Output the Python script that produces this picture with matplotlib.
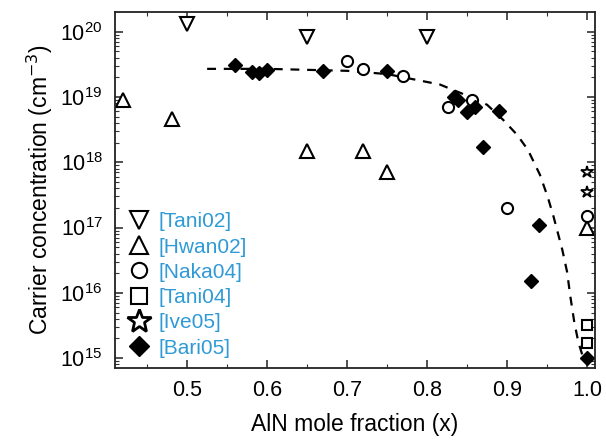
import numpy as np
import matplotlib.pyplot as plt
from matplotlib.lines import Line2D
from matplotlib.ticker import LogLocator, MultipleLocator, FixedLocator

plt.rcParams['font.family'] = ['Liberation Sans', 'DejaVu Sans']

# data (x = AlN mole fraction, y = carrier conc. in cm^-3)
tani02_x = [0.50, 0.65, 0.80]
tani02_y = [1.3e20, 8.3e19, 8.3e19]

hwan02_x = [0.42, 0.481, 0.65, 0.72, 0.75, 1.0]
hwan02_y = [9.0e18, 4.6e18, 1.5e18, 1.5e18, 7.0e17, 1.0e17]

naka04_x = [0.70, 0.72, 0.77, 0.826, 0.856, 0.90, 1.0]
naka04_y = [3.6e19, 2.7e19, 2.1e19, 7.0e18, 9.0e18, 2.0e17, 1.5e17]

tani04_x = [1.0, 1.0]
tani04_y = [3.2e15, 1.7e15]

ive05_x = [1.0, 1.0]
ive05_y = [7.2e17, 3.5e17]

bari05_x = [0.56, 0.581, 0.59, 0.60, 0.67, 0.75, 0.833, 0.839, 0.85, 0.86,
            0.89, 0.87, 0.94, 0.93, 1.0]
bari05_y = [3.1e19, 2.4e19, 2.3e19, 2.6e19, 2.5e19, 2.5e19, 1.0e19, 9.0e18,
            5.9e18, 6.9e18, 6.0e18, 1.7e18, 1.1e17, 1.5e16, 1.0e15]

# dashed guide curve, read point by point (log10 of concentration)
curve_x = [0.525, 0.60, 0.70, 0.75, 0.816, 0.85, 0.875, 0.895, 0.9125, 0.926,
           0.941, 0.951, 0.958, 0.969, 0.975, 0.979, 0.984, 0.989, 0.994]
curve_logy = [19.43, 19.43, 19.40, 19.35, 19.19, 19.02, 18.88, 18.65, 18.42,
              18.19, 17.81, 17.46, 17.17, 16.66, 16.32, 15.95, 15.55, 15.25, 15.05]

labels = ['[Tani02]', '[Hwan02]', '[Naka04]', '[Tani04]', '[Ive05]', '[Bari05]']
x_ticks = [0.5, 0.6, 0.7, 0.8, 0.9, 1.0]

fig = plt.figure(figsize=(6.06, 4.46), dpi=100)
ax = fig.add_axes([0.19, 0.175, 0.792, 0.798])

open_style = dict(linestyle='none', markerfacecolor='white', markeredgecolor='black',
                  markeredgewidth=1.5)

ax.plot(curve_x, 10 ** np.array(curve_logy), linestyle=(0, (4, 3.5)), color='black', lw=1.6,
        zorder=2)
ax.plot(tani02_x, tani02_y, marker='v', markersize=10, **open_style)
ax.plot(hwan02_x, hwan02_y, marker='^', markersize=10, **open_style)
ax.plot(naka04_x, naka04_y, marker='o', markersize=8, **open_style)
ax.plot(tani04_x, tani04_y, marker='s', markersize=7, **open_style)
ax.plot(ive05_x, ive05_y, marker='*', markersize=9, linestyle='none',
        markerfacecolor='white', markeredgecolor='black', markeredgewidth=1.3)
ax.plot(bari05_x, bari05_y, marker='D', markersize=7.5, linestyle='none', color='black')

ax.set_yscale('log')
ax.set_xlim(0.41, 1.01)
ax.set_ylim(10 ** 14.85, 10 ** 20.3)

ax.xaxis.set_major_locator(FixedLocator(x_ticks))
ax.xaxis.set_minor_locator(MultipleLocator(0.05))
ax.set_xticklabels([f'{v:.1f}' for v in x_ticks])
ax.yaxis.set_major_locator(LogLocator(base=10, numticks=10))
ax.yaxis.set_minor_locator(LogLocator(base=10, subs=np.arange(2, 10), numticks=20))

ax.tick_params(which='both', direction='in', top=True, right=True, labelsize=15.5, color='#333333')
ax.tick_params(which='major', length=6, width=1.2, pad=9)
ax.tick_params(which='minor', length=3, width=0.8)
for sp in ax.spines.values():
    sp.set_linewidth(1.3)
    sp.set_color('#222222')

ax.set_xlabel('AlN mole fraction (x)', fontsize=16.5, labelpad=8)
ax.set_ylabel('Carrier concentration (cm$^{-3}$)', fontsize=16.5, labelpad=4)

handles = [
    Line2D([], [], marker='v', markersize=13, **open_style),
    Line2D([], [], marker='^', markersize=13, **open_style),
    Line2D([], [], marker='o', markersize=11, **open_style),
    Line2D([], [], marker='s', markersize=11, **open_style),
    Line2D([], [], marker='*', markersize=18, linestyle='none', markerfacecolor='white',
           markeredgecolor='black', markeredgewidth=2),
    Line2D([], [], marker='D', markersize=10, linestyle='none', color='black'),
]
leg = ax.legend(handles, labels, loc='lower left', bbox_to_anchor=(0.005, 0.0), frameon=False,
                fontsize=15, handlelength=1.1, handletextpad=0.35, labelspacing=0.3,
                borderaxespad=0.1)
for t in leg.get_texts():
    t.set_color('#2f9ad6')

fig.savefig('out.png', dpi=100)
